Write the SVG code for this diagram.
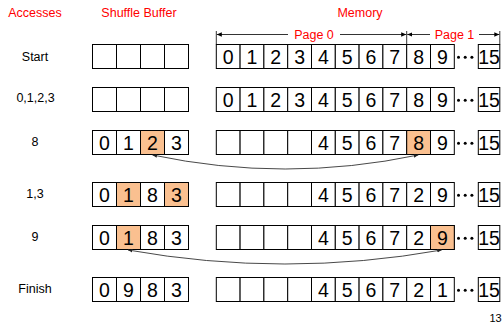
<svg xmlns="http://www.w3.org/2000/svg" width="503" height="323" viewBox="0 0 503 323">
<style>
.c{fill:#fff;stroke:#000;stroke-width:1}
.h{fill:#FAC090;stroke:#000;stroke-width:1}
.d{font-family:"Liberation Sans",Arial,sans-serif;font-size:19.5px;fill:#000;text-anchor:middle}
.t{font-family:"Liberation Sans",Arial,sans-serif;font-size:12.5px;text-anchor:middle;fill:#000}
.r{fill:#f00}
.dim{stroke:#000;stroke-width:0.8;fill:none}
.con{stroke:#333;stroke-width:0.9;fill:none}
</style>
<defs>
<marker id="ah" markerUnits="userSpaceOnUse" markerWidth="6" markerHeight="6" refX="5" refY="3" orient="auto-start-reverse" viewBox="0 0 6 6">
<path d="M0,0.8 L5,3 L0,5.2 Z" fill="#000"/>
</marker>
<marker id="ca" markerUnits="userSpaceOnUse" markerWidth="5" markerHeight="5" refX="4.5" refY="2.5" orient="auto-start-reverse" viewBox="0 0 5 5">
<path d="M0,0.7 L4.5,2.5 L0,4.3 Z" fill="#222"/>
</marker>
<g id="bufcells">
<rect class="c" x="92.5" y="0" width="24" height="24"/>
<rect class="c" x="116.5" y="0" width="24" height="24"/>
<rect class="c" x="140.5" y="0" width="24" height="24"/>
<rect class="c" x="164.5" y="0" width="24" height="24"/>
</g>
<g id="memcells">
<rect class="c" x="216.3" y="0" width="23.8" height="24"/>
<rect class="c" x="240.1" y="0" width="23.8" height="24"/>
<rect class="c" x="263.9" y="0" width="23.8" height="24"/>
<rect class="c" x="287.7" y="0" width="23.8" height="24"/>
<rect class="c" x="311.5" y="0" width="23.8" height="24"/>
<rect class="c" x="335.3" y="0" width="23.8" height="24"/>
<rect class="c" x="359.1" y="0" width="23.8" height="24"/>
<rect class="c" x="382.9" y="0" width="23.8" height="24"/>
<rect class="c" x="406.7" y="0" width="23.8" height="24"/>
<rect class="c" x="430.5" y="0" width="23.8" height="24"/>
<rect class="c" x="478.3" y="0" width="21.5" height="24"/>
<circle cx="458.5" cy="12.8" r="1.5" fill="#000"/>
<circle cx="465.2" cy="12.8" r="1.5" fill="#000"/>
<circle cx="471.9" cy="12.8" r="1.5" fill="#000"/>
<text class="d" x="489.1" y="19">15</text>
</g>
</defs>

<g id="headers">
<text class="t r" x="35" y="17">Accesses</text>
<text class="t r" x="139" y="17">Shuffle Buffer</text>
<text class="t r" x="360" y="17">Memory</text>
</g>

<g id="pages">
<line class="dim" x1="216.3" y1="31" x2="216.3" y2="44.5"/>
<line class="dim" x1="406.7" y1="31" x2="406.7" y2="44.5"/>
<line class="dim" x1="499.8" y1="31" x2="499.8" y2="44.5"/>
<line class="dim" x1="288" y1="34.5" x2="216.8" y2="34.5" marker-end="url(#ah)"/>
<line class="dim" x1="340" y1="34.5" x2="406.2" y2="34.5" marker-end="url(#ah)"/>
<line class="dim" x1="430" y1="34.5" x2="407.2" y2="34.5" marker-end="url(#ah)"/>
<line class="dim" x1="479" y1="34.5" x2="499.3" y2="34.5" marker-end="url(#ah)"/>
<text class="t r" x="314" y="38.7">Page 0</text>
<text class="t r" x="454.5" y="38.7">Page 1</text>
</g>

<g id="labels">
<text class="t" fill="#000" x="35" y="60.5">Start</text>
<text class="t" fill="#000" x="35.5" y="102">0,1,2,3</text>
<text class="t" fill="#000" x="35" y="146">8</text>
<text class="t" fill="#000" x="35" y="198">1,3</text>
<text class="t" fill="#000" x="35" y="240.5">9</text>
<text class="t" fill="#000" x="35" y="293">Finish</text>
</g>

<g id="row-start">
<g id="buf-start" transform="translate(0,44.5)"><use href="#bufcells"/></g>
<g id="mem-start" transform="translate(0,44.5)"><use href="#memcells"/>
<text class="d" x="228.2" y="19">0</text><text class="d" x="252" y="19">1</text><text class="d" x="275.8" y="19">2</text><text class="d" x="299.6" y="19">3</text><text class="d" x="323.4" y="19">4</text><text class="d" x="347.2" y="19">5</text><text class="d" x="371" y="19">6</text><text class="d" x="394.8" y="19">7</text><text class="d" x="418.6" y="19">8</text><text class="d" x="442.4" y="19">9</text>
</g>
</g>

<g id="row-0123">
<g id="buf-0123" transform="translate(0,87.5)"><use href="#bufcells"/></g>
<g id="mem-0123" transform="translate(0,87.5)"><use href="#memcells"/>
<text class="d" x="228.2" y="19">0</text><text class="d" x="252" y="19">1</text><text class="d" x="275.8" y="19">2</text><text class="d" x="299.6" y="19">3</text><text class="d" x="323.4" y="19">4</text><text class="d" x="347.2" y="19">5</text><text class="d" x="371" y="19">6</text><text class="d" x="394.8" y="19">7</text><text class="d" x="418.6" y="19">8</text><text class="d" x="442.4" y="19">9</text>
</g>
</g>

<g id="row-8">
<g id="buf-8" transform="translate(0,130.5)"><use href="#bufcells"/>
<rect class="h" x="140.5" y="0" width="24" height="24"/>
<text class="d" x="104.5" y="19">0</text><text class="d" x="128.5" y="19">1</text><text class="d" x="152.5" y="19">2</text><text class="d" x="176.5" y="19">3</text>
</g>
<g id="mem-8" transform="translate(0,130.5)"><use href="#memcells"/>
<rect class="h" x="406.7" y="0" width="23.8" height="24"/>
<text class="d" x="323.4" y="19">4</text><text class="d" x="347.2" y="19">5</text><text class="d" x="371" y="19">6</text><text class="d" x="394.8" y="19">7</text><text class="d" x="418.6" y="19">8</text><text class="d" x="442.4" y="19">9</text>
</g>
</g>

<g id="row-13">
<g id="buf-13" transform="translate(0,182.5)"><use href="#bufcells"/>
<rect class="h" x="116.5" y="0" width="24" height="24"/>
<rect class="h" x="164.5" y="0" width="24" height="24"/>
<text class="d" x="104.5" y="19">0</text><text class="d" x="128.5" y="19">1</text><text class="d" x="152.5" y="19">8</text><text class="d" x="176.5" y="19">3</text>
</g>
<g id="mem-13" transform="translate(0,182.5)"><use href="#memcells"/>
<text class="d" x="323.4" y="19">4</text><text class="d" x="347.2" y="19">5</text><text class="d" x="371" y="19">6</text><text class="d" x="394.8" y="19">7</text><text class="d" x="418.6" y="19">2</text><text class="d" x="442.4" y="19">9</text>
</g>
</g>

<g id="row-9">
<g id="buf-9" transform="translate(0,225.5)"><use href="#bufcells"/>
<rect class="h" x="116.5" y="0" width="24" height="24"/>
<text class="d" x="104.5" y="19">0</text><text class="d" x="128.5" y="19">1</text><text class="d" x="152.5" y="19">8</text><text class="d" x="176.5" y="19">3</text>
</g>
<g id="mem-9" transform="translate(0,225.5)"><use href="#memcells"/>
<rect class="h" x="430.5" y="0" width="23.8" height="24"/>
<text class="d" x="323.4" y="19">4</text><text class="d" x="347.2" y="19">5</text><text class="d" x="371" y="19">6</text><text class="d" x="394.8" y="19">7</text><text class="d" x="418.6" y="19">2</text><text class="d" x="442.4" y="19">9</text>
</g>
</g>

<g id="row-finish">
<g id="buf-finish" transform="translate(0,277.5)"><use href="#bufcells"/>
<text class="d" x="104.5" y="19">0</text><text class="d" x="128.5" y="19">9</text><text class="d" x="152.5" y="19">8</text><text class="d" x="176.5" y="19">3</text>
</g>
<g id="mem-finish" transform="translate(0,277.5)"><use href="#memcells"/>
<text class="d" x="323.4" y="19">4</text><text class="d" x="347.2" y="19">5</text><text class="d" x="371" y="19">6</text><text class="d" x="394.8" y="19">7</text><text class="d" x="418.6" y="19">2</text><text class="d" x="442.4" y="19">1</text>
</g>
</g>

<g id="connectors">
<path class="con" d="M418.3,155 Q285,183 152.5,155" marker-start="url(#ca)" marker-end="url(#ca)"/>
<path class="con" d="M441.7,250 Q285,278 128,250" marker-start="url(#ca)" marker-end="url(#ca)"/>
</g>

<text x="489.5" y="321.5" font-family="Liberation Sans, Arial, sans-serif" font-size="11" fill="#000">13</text>
</svg>
